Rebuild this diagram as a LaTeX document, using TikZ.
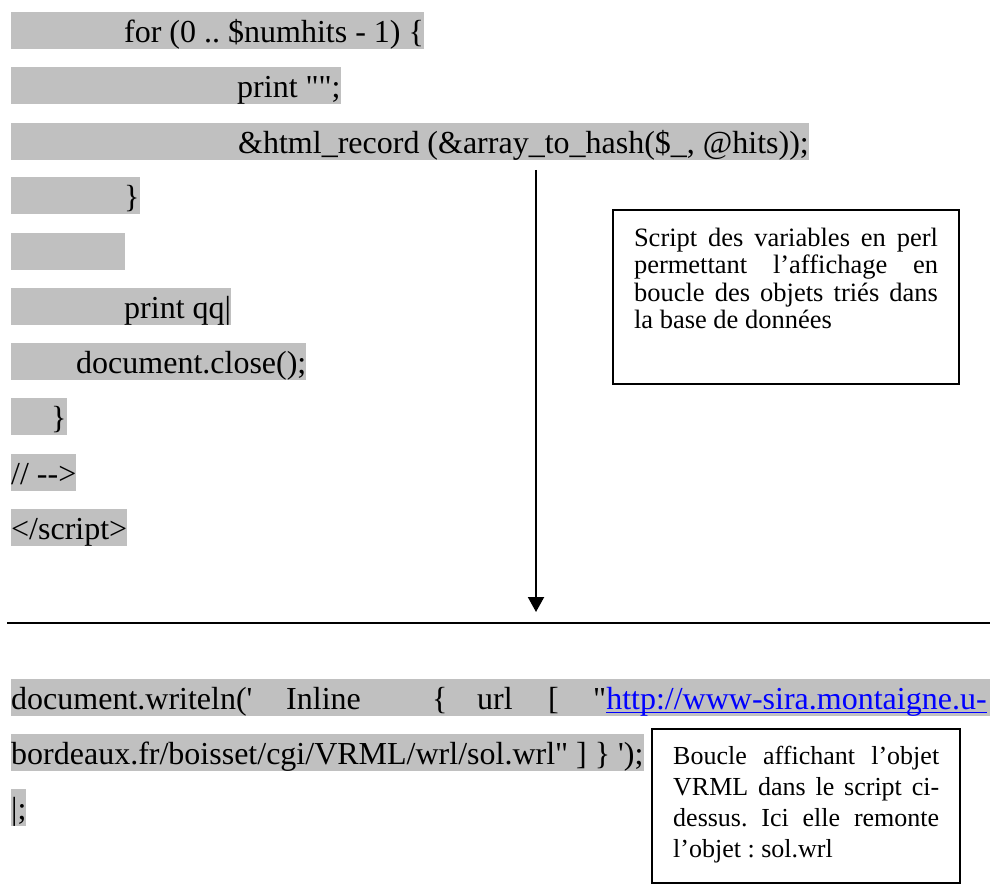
\documentclass[tikz,border=0pt]{standalone}
\usepackage{fontspec}
\setmainfont{Liberation Serif}
\newfontfamily\codefont{Liberation Serif}
\usetikzlibrary{arrows.meta}
\definecolor{hlgray}{RGB}{192,192,192}
\definecolor{linkblue}{RGB}{0,0,255}
\newcommand\hlstrut{\rule[-7pt]{0pt}{37pt}}
\newcommand\weblink[1]{\textcolor{linkblue}{\setbox0=\hbox{#1}\rlap{\rule[-4pt]{\wd0}{1.6pt}}\box0}}
\tikzset{
    codeline/.style={fill=hlgray, inner sep=0pt, anchor=north west, font=\codefont\fontsize{32}{37}\selectfont},
    notebox/.style={draw, line width=2pt, anchor=north west, inner xsep=21pt, inner ysep=0pt},
    flow/.style={line width=2pt, -{Triangle[width=16pt,length=15pt]}},
    rulebar/.style={line width=2.5pt}
}
\begin{document}
\frenchspacing
\begin{tikzpicture}[x=1pt,y=-1pt]
    \useasboundingbox (0,0) rectangle (990,896);
    \node[codeline] (forloop) at (11,12) {\hlstrut\hspace*{113pt}for (0 .. \$numhits - 1) \{};
    \node[codeline] (printempty) at (11,67) {\hlstrut\hspace*{226pt}print "";};
    \node[codeline] (record) at (11,123) {\hlstrut\hspace*{227pt}\&html\_record (\&array\_to\_hash(\$\_, @hits));};
    \node[codeline] (closeloop) at (11,177) {\hlstrut\hspace*{113pt}\}};
    \node[codeline] (blank) at (11,233) {\hlstrut\hspace*{114pt}};
    \node[codeline] (printqq) at (11,288) {\hlstrut\hspace*{113pt}print qq|};
    \node[codeline] (docclose) at (11,343) {\hlstrut\hspace*{65pt}document.close();};
    \node[codeline] (closefunc) at (11,398) {\hlstrut\hspace*{40pt}\}};
    \node[codeline] (comment) at (11,454) {\hlstrut// -->};
    \node[codeline] (endscript) at (11,509) {\hlstrut</script>};
    \node[notebox] (perlnote) at (612,209) {\parbox[t][174pt][t]{304pt}{\fontsize{26.5}{27.5}\selectfont\rule{0pt}{36pt}Script des variables en perl\linebreak permettant l’affichage en\linebreak boucle des objets triés dans\linebreak la base de données}};
    \coordinate (tail) at (536,170);
    \coordinate (tip) at (536,612);
    \draw[flow] (tail) -- (tip);
    \coordinate (ruleleft) at (7,623);
    \coordinate (ruleright) at (990,623);
    \draw[rulebar] (ruleleft) -- (ruleright);
    \node[codeline] (writeln) at (11,679) {\hlstrut\makebox[275pt][l]{document.writeln('}\makebox[146pt][l]{Inline}\makebox[45pt][l]{\{}\makebox[71pt][l]{url}\makebox[45pt][l]{[}"\weblink{http://www-sira.montaigne.u-}\hspace*{4pt}};
    \node[codeline] (wrlpath) at (11,734) {\hlstrut bordeaux.fr/boisset/cgi/VRML/wrl/sol.wrl" ] \} ');};
    \node[codeline] (endqq) at (11,789) {\hlstrut|;};
    \node[notebox, line width=2.4pt] (vrmlnote) at (651,728) {\parbox[t][154pt][t]{266pt}{\fontsize{26}{31}\selectfont\rule{0pt}{35pt}Boucle affichant l’objet\linebreak VRML dans le script ci-\linebreak dessus. Ici elle remonte\linebreak l’objet : sol.wrl}};
\end{tikzpicture}
\end{document}
